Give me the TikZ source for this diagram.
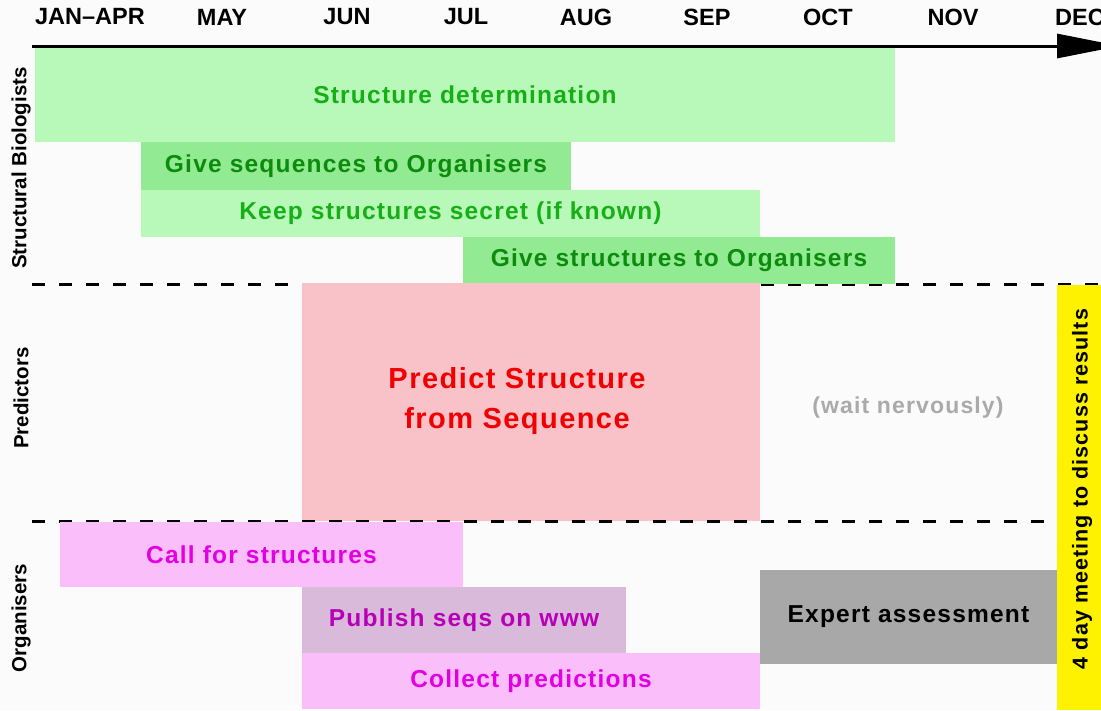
\documentclass[tikz,border=0pt]{standalone}
\usepackage{fontspec}
\setmainfont{Liberation Sans}
\newfontfamily\spacedfont[LetterSpace=5.0]{Liberation Sans}
\usetikzlibrary{
  arrows.meta,
  positioning,
}
\definecolor{bggray}{RGB}{251,251,251}
\definecolor{lightgreen}{RGB}{184,248,184}
\definecolor{midgreen}{RGB}{146,234,146}
\definecolor{greentext}{RGB}{22,176,22}
\definecolor{darkgreentext}{RGB}{12,140,12}
\definecolor{predictpink}{RGB}{248,194,200}
\definecolor{predictred}{RGB}{240,0,0}
\definecolor{orgpink}{RGB}{250,190,250}
\definecolor{orgmauve}{RGB}{218,186,218}
\definecolor{orgtext}{RGB}{226,0,226}
\definecolor{orgdarktext}{RGB}{184,0,184}
\definecolor{expertgray}{RGB}{168,168,168}
\definecolor{waitgray}{RGB}{170,170,170}
\tikzstyle{task} = [
  rectangle,
  inner sep=0pt,
  outer sep=0pt,
  anchor=north west,
  font=\spacedfont\bfseries\fontsize{24.5}{29}\selectfont,
]
\tikzstyle{month} = [inner sep=0pt, font=\bfseries\fontsize{23.5}{28}\selectfont]
\tikzstyle{group} = [rotate=90, inner sep=0pt, font=\bfseries\fontsize{20.5}{24}\selectfont]
\tikzstyle{timeline} = [-{Triangle[length=63pt,width=24pt]}, line width=3pt, black]
\tikzstyle{separator} = [dash pattern=on 13pt off 14pt, line width=3pt, black]

\begin{document}
\begin{tikzpicture}[x=1pt,y=-1pt]
			\useasboundingbox[fill=bggray] (0,0) rectangle (1101,710);

			\node[month] (m1) at (90,17)   {JAN–APR};
			\node[month] (m2) at (222,17)  {MAY};
			\node[month] (m3) at (347,17)  {JUN};
			\node[month] (m4) at (466,17)  {JUL};
			\node[month] (m5) at (586,17)  {AUG};
			\node[month] (m6) at (707,17)  {SEP};
			\node[month] (m7) at (828,17)  {OCT};
			\node[month] (m8) at (953,17)  {NOV};
			\node[month] (m9) at (1080,17) {DEC};

			\node[group] (biol) at (21,168) {Structural Biologists};
			\node[group] (pred) at (21,398) {Predictors};
			\node[group] (orgs) at (21,618) {Organisers};

			\coordinate (sep1a) at (32,284);
			\coordinate (sep1b) at (1101,284);
			\draw[separator] (sep1a) -- (sep1b);

			\node[task,fill=lightgreen,text=greentext,minimum width=860,minimum height=95] (det) at (35,47) {Structure determination};
			\node[task,fill=midgreen,text=darkgreentext,minimum width=430,minimum height=48] (giveseq) at (141,142) {Give sequences to Organisers};
			\node[task,fill=lightgreen,text=greentext,minimum width=619,minimum height=47] (secret) at (141,190) {Keep structures secret (if known)};
			\node[task,fill=midgreen,text=darkgreentext,minimum width=432,minimum height=47] (givestruct) at (463,237) {Give structures to Organisers};

			\node[task,fill=predictpink,minimum width=458,minimum height=238] (predict) at (302,283) {};
			\node[text=predictred,align=center,font=\spacedfont\bfseries\fontsize{29}{40}\selectfont] (predtext) at (517,401) {Predict Structure\\from Sequence};
			\node[font=\spacedfont\bfseries\fontsize{23}{27}\selectfont,text=waitgray] (wait) at (908,408) {(wait nervously)};

			\coordinate (sep2a) at (32,521);
			\coordinate (sep2b) at (1057,521);
			\draw[separator] (sep2a) -- (sep2b);

			\node[task,fill=orgpink,text=orgtext,minimum width=403,minimum height=65] (callfor) at (60,522) {Call for structures};
			\node[task,fill=orgmauve,text=orgdarktext,minimum width=324,minimum height=66] (publish) at (302,587) {Publish seqs on www};
			\node[task,fill=orgpink,text=orgtext,minimum width=458,minimum height=56] (collect) at (302,653) {Collect predictions};
			\node[task,fill=expertgray,text=black,minimum width=297,minimum height=94] (expert) at (760,570) {Expert assessment};

			\node[task,fill=yellow,minimum width=44,minimum height=425] (meeting) at (1057,285) {};
			\node[rotate=90,inner sep=0pt,font=\spacedfont\bfseries\fontsize{21.5}{25}\selectfont] (meettext) at (1082,489) {4 day meeting to discuss results};

			\coordinate (tstart) at (32,46);
			\coordinate (tend) at (1120,46);
			\draw[timeline] (tstart) -- (tend);
		\end{tikzpicture}
\end{document}
